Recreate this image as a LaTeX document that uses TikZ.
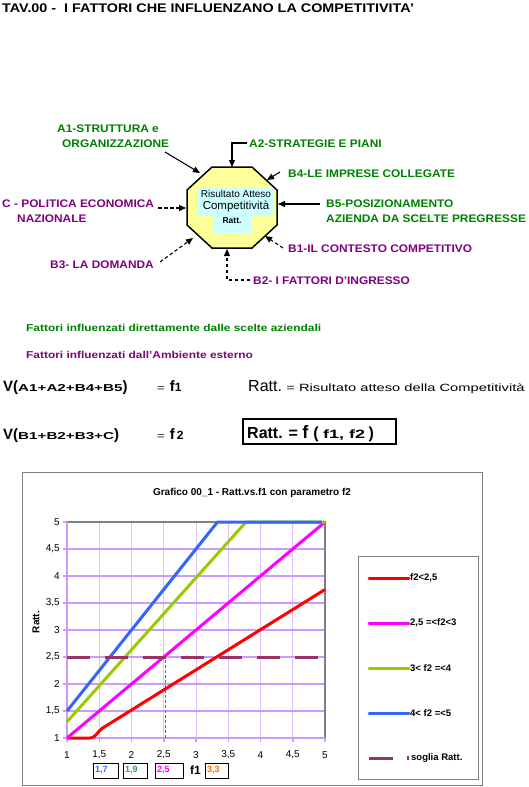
\documentclass[tikz,border=0pt]{standalone}
\usepackage{fontspec}
\usepackage{graphicx}
\setmainfont{Liberation Sans}
\usetikzlibrary{arrows.meta}
\definecolor{lgreen}{RGB}{0,128,0}
\definecolor{lpurple}{RGB}{128,0,128}
\definecolor{octfill}{RGB}{255,255,153}
\definecolor{cyanbox}{RGB}{204,255,255}
\definecolor{cred}{RGB}{255,0,0}
\definecolor{cmag}{RGB}{255,0,255}
\definecolor{cgreen}{RGB}{153,204,0}
\definecolor{cblue}{RGB}{51,102,255}
\definecolor{cmaroon}{RGB}{153,51,102}
\definecolor{gridh}{RGB}{204,153,255}
\definecolor{gridv}{RGB}{224,192,255}
\definecolor{tgreen}{RGB}{51,153,102}
\definecolor{corange}{RGB}{255,102,0}
\definecolor{frgray}{RGB}{128,128,128}
\newcommand{\hsx}[2]{\scalebox{#1}[1]{#2}}
\tikzset{
  lab/.style={inner sep=0pt, anchor=base west, font=\fontsize{11}{13}\selectfont\bfseries},
  glab/.style={lab, text=lgreen},
  plab/.style={lab, text=lpurple},
  solidarr/.style={line width=1.1pt, -{Triangle[length=7pt,width=6pt]}},
  dasharr/.style={solidarr, dash pattern=on 3.5pt off 2.5pt},
  curve/.style={line width=3pt, line join=round},
  ticklab/.style={inner sep=0pt, font=\fontsize{10}{12}\selectfont},
  legtext/.style={inner sep=0pt, anchor=west, font=\fontsize{9.5}{11}\selectfont\bfseries},
  smallbox/.style={draw=black, line width=1pt},
  boxtext/.style={inner sep=0pt, anchor=west, font=\fontsize{9}{10}\selectfont\bfseries},
}
\begin{document}
\begin{tikzpicture}[x=1pt,y=-1pt]
\useasboundingbox (0,0) rectangle (528,787);
\fill[white] (0,0) rectangle (528,787);

% title
\node[anchor=base west, inner sep=0pt, font=\fontsize{12.5}{14}\selectfont\bfseries] (title) at (2,12.5)
  {\hsx{1.15}{TAV.00 -\ \ I FATTORI CHE INFLUENZANO LA COMPETITIVITA'}};

% octagon
\draw[line width=1.5pt, fill=octfill] (212,167) -- (252,167) -- (277,190) -- (277,225) -- (252,248) -- (212,248) -- (187,225) -- (187,190) -- cycle;
\fill[cyanbox] (197,187) -- (273,187) -- (273,215) -- (252,215) -- (252,233) -- (213,233) -- (213,215) -- (197,215) -- cycle;
\node[anchor=base, inner sep=0pt, font=\fontsize{10}{12}\selectfont] (rt1) at (236,197) {Risultato Atteso};
\node[anchor=base, inner sep=0pt, font=\fontsize{11.5}{13}\selectfont] (rt2) at (236,209.5) {Competitività};
\node[anchor=base, inner sep=0pt, font=\fontsize{8.5}{10}\selectfont\bfseries] (rt3) at (232,223) {Ratt.};

% labels
\node[glab] (a1a) at (57,132) {\hsx{1.08}{A1-STRUTTURA e}};
\node[glab] (a1b) at (62,147) {\hsx{1.08}{ORGANIZZAZIONE}};
\node[glab] (a2) at (249,147) {\hsx{1.08}{A2-STRATEGIE E PIANI}};
\node[glab] (b4) at (288,177) {\hsx{1.08}{B4-LE IMPRESE COLLEGATE}};
\node[glab] (b5a) at (326,207) {\hsx{1.08}{B5-POSIZIONAMENTO}};
\node[glab] (b5b) at (326,222) {\hsx{1.08}{AZIENDA DA SCELTE PREGRESSE}};
\node[plab] (b1) at (288,252) {\hsx{1.08}{B1-IL CONTESTO COMPETITIVO}};
\node[plab] (b2) at (253,284) {\hsx{1.08}{B2- I FATTORI D'INGRESSO}};
\node[plab] (b3) at (50,268) {\hsx{1.08}{B3- LA DOMANDA}};
\node[plab] (ca) at (2,207) {\hsx{1.08}{C - POLITICA ECONOMICA}};
\node[plab] (cb) at (17,222) {\hsx{1.08}{NAZIONALE}};

% arrows
\coordinate (a1s) at (165,152); \coordinate (a1e) at (200,173);
\coordinate (a2s) at (247,143); \coordinate (a2e) at (232,167);
\coordinate (b4s) at (280,172); \coordinate (b4e) at (267,180);
\coordinate (b5s) at (320,204); \coordinate (b5e) at (278,204);
\coordinate (b1s) at (283,248); \coordinate (b1e) at (265,236);
\coordinate (b2s) at (250,280); \coordinate (b2e) at (227,249);
\coordinate (b3s) at (160,262); \coordinate (b3e) at (193,238);
\coordinate (cs) at (158,208);  \coordinate (ce) at (186,208);
\draw[solidarr] (a1s) -- (a1e);
\draw[solidarr] (a2s) -| (a2e);
\draw[solidarr] (b4s) -- (b4e);
\draw[solidarr] (b5s) -- (b5e);
\draw[dasharr] (b1s) -- (b1e);
\draw[dasharr] (b2s) -| (b2e);
\draw[dasharr] (b3s) -- (b3e);
\draw[dasharr] (cs) -- (ce);

% legend texts
\node[anchor=base west, inner sep=0pt, text=lgreen, font=\fontsize{10}{12}\selectfont\bfseries] (lg1) at (26,331)
  {\hsx{1.19}{Fattori influenzati direttamente dalle scelte aziendali}};
\node[anchor=base west, inner sep=0pt, text=lpurple, font=\fontsize{10}{12}\selectfont\bfseries] (lg2) at (26,358)
  {\hsx{1.19}{Fattori influenzati dall'Ambiente esterno}};

% formulas
\node[anchor=base west, inner sep=0pt] (fa) at (3,391.5)
  {\fontsize{15}{15}\selectfont\bfseries V(\fontsize{10}{10}\selectfont\hsx{1.52}{A1+A2+B4+B5}\fontsize{15}{15}\selectfont)};
\node[anchor=base west, inner sep=0pt] (fb) at (3,439)
  {\fontsize{15}{15}\selectfont\bfseries V(\fontsize{10}{10}\selectfont\hsx{1.52}{B1+B2+B3+C}\fontsize{15}{15}\selectfont)};
\node[anchor=base west, inner sep=0pt] (ea) at (157,391.5)
  {\fontsize{10}{10}\selectfont\hsx{1.3}{=}\hspace{5pt}\fontsize{15}{15}\selectfont\bfseries f\fontsize{12}{12}\selectfont 1};
\node[anchor=base west, inner sep=0pt] (eb) at (157,439)
  {\fontsize{10}{10}\selectfont\hsx{1.3}{=}\hspace{5pt}\fontsize{15}{15}\selectfont\bfseries f\hspace{2pt}\fontsize{12}{12}\selectfont 2};
\node[anchor=base west, inner sep=0pt] (def) at (248,391.5)
  {\fontsize{16}{16}\selectfont Ratt.\ \fontsize{10.5}{10.5}\selectfont\hsx{1.4}{= Risultato atteso della Competitività}};
\draw[line width=1.3pt] (243,419) rectangle (396,444);
\node[anchor=base west, inner sep=0pt] (rf) at (247,438)
  {\fontsize{16}{16}\selectfont\bfseries Ratt. = \fontsize{18}{18}\selectfont f \fontsize{16}{16}\selectfont( \fontsize{12}{12}\selectfont\hsx{1.5}{f1, f2} \fontsize{16}{16}\selectfont)};

% chart frame
\draw[frgray, line width=0.8pt] (22,472) rectangle (482,785);
\node[inner sep=0pt, font=\fontsize{10}{12}\selectfont\bfseries] (ctitle) at (252,493) {Grafico 00\_1 - Ratt.vs.f1 con parametro f2};

\begin{scope}[shift={(2.5,792)}, x=64.5pt, y=54pt]
  \foreach \f in {1.5,2,...,4.5} \draw[gridv, line width=1pt] (\f,1) -- (\f,5);
  \foreach \r in {1.5,2,...,4.5} \draw[gridh, line width=1.5pt] (1,\r) -- (5,\r);
  \draw[frgray, line width=1.2pt] (1,5) -- (5,5) -- (5,1);
  \foreach \r in {1,1.5,...,5} \draw[gridh, line width=1.5pt] (1,\r) -- ++(-4pt,0pt);
  \foreach \f in {1,1.5,...,5} \draw[gridh, line width=1.5pt] (\f,1) -- ++(0pt,-4pt);
  \draw[gridh, line width=2.5pt] (1,5) -- (1,1) -- (5,1);
  \foreach \v/\t [count=\i] in {1/1,1.5/{1,5},2/2,2.5/{2,5},3/3,3.5/{3,5},4/4,4.5/{4,5},5/5}
    \node[ticklab, anchor=east, xshift=-7pt] (yt\i) at (1,\v) {\t};
  \foreach \v/\t [count=\i] in {1/1,1.5/{1,5},2/2,2.5/{2,5},3/3,3.5/{3,5},4/4,4.5/{4,5},5/5}
    \node[ticklab, anchor=center, yshift=-17pt] (xt\i) at (\v,1) {\t};
  \draw[cmag, line width=1pt, dash pattern=on 3pt off 2pt] (2.53,1) -- (2.53,2.5);
  \draw[curve, cred] (1,1) -- (1.36,1) .. controls (1.44,1) and (1.48,1.13) .. (1.55,1.183) -- (5,3.75);
  \draw[curve, cmag] (1,1) -- (5,5);
  \draw[curve, cgreen] (1,1.3) -- (3.775,5) -- (5,5);
  \draw[curve, cblue] (1,1.5) -- (3.333,5) -- (4.95,5);
  \draw[cmaroon, line width=3pt, dash pattern=on 23pt off 15pt] (1,2.5) -- (5,2.5);
\end{scope}

\node[inner sep=0pt, rotate=90, font=\fontsize{10}{12}\selectfont\bfseries] (ylab) at (36,622) {Ratt.};

% boxes under axis
\draw[smallbox] (93,763) rectangle (118,778);
\draw[smallbox] (123,763) rectangle (147,778);
\draw[smallbox] (155,763) rectangle (183,778);
\draw[smallbox] (205,763) rectangle (228,778);
\node[boxtext, text=cblue] (bx1) at (95,770.5) {1,7};
\node[boxtext, text=tgreen] (bx2) at (125,770.5) {1,9};
\node[boxtext, text=cmag] (bx3) at (157,770.5) {2,5};
\node[boxtext, text=corange] (bx4) at (207,770.5) {3,3};
\node[inner sep=0pt, anchor=west, font=\fontsize{12}{14}\selectfont\bfseries] (fone) at (190,770.5) {f1};

% legend
\draw[frgray, line width=0.8pt] (358,556) rectangle (478,779);
\draw[cred, line width=3pt, line cap=round] (369,578) -- (409,578);
\draw[cmag, line width=3pt, line cap=round] (369,623) -- (409,623);
\draw[cgreen, line width=3pt, line cap=round] (369,668) -- (409,668);
\draw[cblue, line width=3pt, line cap=round] (369,713) -- (409,713);
\draw[cmaroon, line width=3pt] (369,758) -- (393,758);
\fill[cmaroon] (407,755.5) rectangle (409,760);
\node[legtext] (le1) at (410,578) {f2<2,5};
\node[legtext] (le2) at (410,623) {2,5 =<f2<3};
\node[legtext] (le3) at (410,668) {3< f2 =<4};
\node[legtext] (le4) at (410,713) {4< f2 =<5};
\node[legtext] (le5) at (411,758) {soglia Ratt.};
\end{tikzpicture}
\end{document}
